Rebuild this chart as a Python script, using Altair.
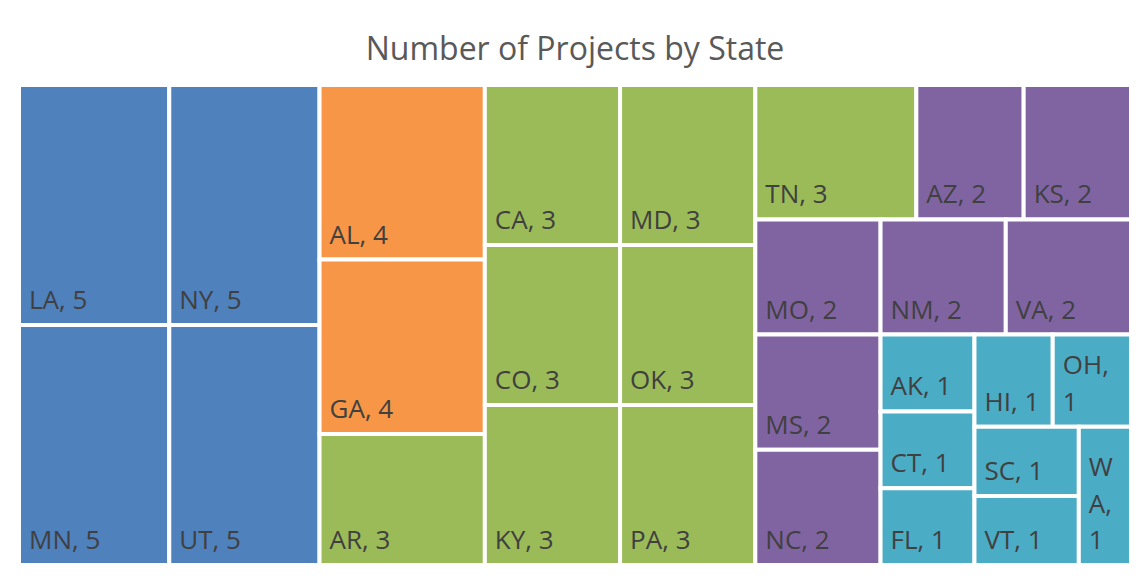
import altair as alt
import pandas as pd

# ---- data, in treemap order ----
states = ["LA", "MN",
          "NY", "UT",
          "AL", "GA", "AR",
          "CA", "CO", "KY",
          "MD", "OK", "PA",
          "TN", "AZ", "KS",
          "MO", "NM", "VA",
          "MS", "NC",
          "AK", "CT", "FL",
          "HI", "OH",
          "SC", "VT",
          "WA"]
projects = [5, 5,
            5, 5,
            4, 4, 3,
            3, 3, 3,
            3, 3, 3,
            3, 2, 2,
            2, 2, 2,
            2, 2,
            1, 1, 1,
            1, 1,
            1, 1,
            1]
# tiles per strip of the treemap and each strip's direction
# ("col" = tiles stacked top to bottom, "row" = tiles side by side), as Excel drew them
strips = [2, 2, 3, 3, 3, 3, 3, 2, 3, 2, 2, 1]
strip_dir = ["col", "col", "col", "col", "col", "row", "row", "col", "col", "row", "col", "col"]
color_values = [5, 4, 3, 2, 1]
color_range = ["#4F81BD", "#F79646", "#9BBB59", "#8064A2", "#4BACC6"]

W, H = 1112, 480
FS = 26
LH = 36.5

# ---- strip layout: each strip takes its share of the remaining area ----
def layout(values, strips, dirs, x, y, w, h):
    rects = []
    i = 0
    rem = float(sum(values))
    for k, d in zip(strips, dirs):
        grp = values[i:i + k]
        s = float(sum(grp))
        if d == "col":
            cw = w * s / rem
            yy = y
            for v in grp:
                ch = h * v / s
                rects.append((x, yy, x + cw, yy + ch))
                yy += ch
            x += cw
            w -= cw
        else:
            rh = h * s / rem
            xx = x
            for v in grp:
                cw2 = w * v / s
                rects.append((xx, y, xx + cw2, y + rh))
                xx += cw2
            y += rh
            h -= rh
        rem -= s
        i += k
    return rects

# approximate Open Sans advance widths (em) for wrapping labels
CW = {"A": .68, "B": .69, "C": .66, "D": .76, "E": .56, "F": .52, "G": .76, "H": .77,
      "I": .30, "J": .28, "K": .63, "L": .53, "M": .91, "N": .76, "O": .78, "P": .60,
      "Q": .78, "R": .65, "S": .55, "T": .56, "U": .76, "V": .63, "W": .97, "X": .62,
      "Y": .59, "Z": .58, ",": .25, " ": .26}

def tw(s):
    return sum(CW.get(c, .57) for c in s) * FS

def wrap(text, avail):
    if tw(text) <= avail:
        return [text]
    lines = []
    for word in text.split(" "):
        if tw(word) <= avail:
            lines.append(word)
        else:
            cur = ""
            for c in word:
                if cur and tw(cur + c) > avail:
                    lines.append(cur)
                    cur = c
                else:
                    cur += c
            if cur:
                lines.append(cur)
    return lines

rects = layout(projects, strips, strip_dir, 0.0, 0.0, float(W), float(H))
rows = []
for st, v, (x0, y0, x1, y1) in zip(states, projects, rects):
    lines = wrap(f"{st}, {v}", (x1 - x0) - 16)
    rows.append({"state": st, "projects": v, "x0": x0, "x1": x1, "y0": y0, "y1": y1,
                 "lx": x0 + 10, "ly": y1 - 16 - (len(lines) - 1) * LH,
                 "label": "\n".join(lines)})
df = pd.DataFrame(rows)

xs = alt.Scale(domain=[0, W], nice=False, zero=False)
ys = alt.Scale(domain=[0, H], nice=False, zero=False, reverse=True)

base = alt.Chart(df)
tiles = base.mark_rect(stroke="white", strokeWidth=4).encode(
    x=alt.X("x0:Q", scale=xs, axis=None),
    x2="x1:Q",
    y=alt.Y("y0:Q", scale=ys, axis=None),
    y2="y1:Q",
    color=alt.Color("projects:O", scale=alt.Scale(domain=color_values, range=color_range), legend=None),
    tooltip=["state:N", "projects:Q"],
)
labels = base.mark_text(align="left", baseline="alphabetic", font="Open Sans", fontSize=FS,
                        color="#404040", lineBreak="\n", lineHeight=LH).encode(
    x=alt.X("lx:Q", scale=xs, axis=None),
    y=alt.Y("ly:Q", scale=ys, axis=None),
    text="label:N",
)

chart = alt.layer(tiles, labels).properties(
    width=W, height=H,
    autosize=alt.AutoSizeParams(type="none"),
    padding={"left": 11, "top": 77, "right": 0, "bottom": 0},
    title=alt.TitleParams("Number of Projects by State", font="Open Sans", fontSize=32,
                          fontWeight="normal", color="#595959", anchor="middle", offset=16),
).configure_view(stroke=None).configure(background="white")

chart.save("out.html", embed_options={"renderer": "svg", "actions": False})
